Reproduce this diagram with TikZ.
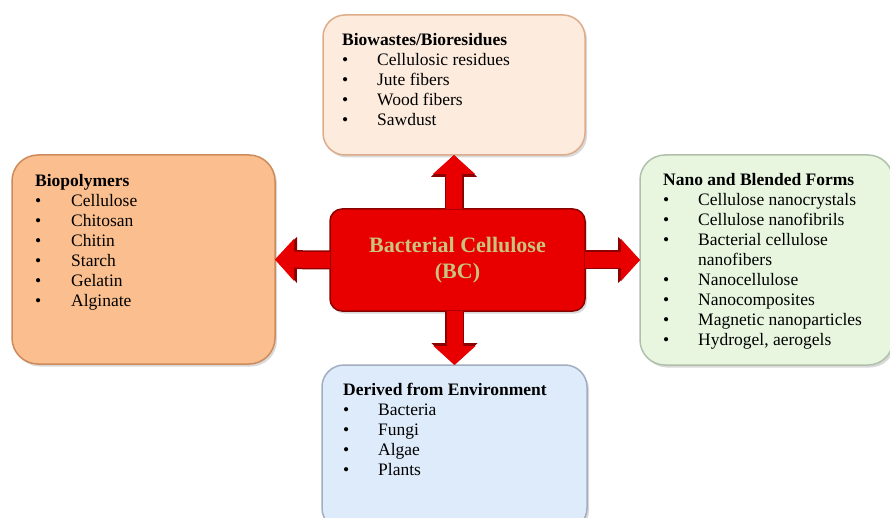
\documentclass[tikz,border=0pt]{standalone}
\usepackage{fontspec}
\setmainfont{Liberation Serif}
\usetikzlibrary{arrows.meta,shadows}

\definecolor{biofill}{RGB}{253,235,221}
\definecolor{bioline}{RGB}{222,172,138}
\definecolor{polyfill}{RGB}{251,191,143}
\definecolor{polyline}{RGB}{205,138,90}
\definecolor{nanofill}{RGB}{232,246,224}
\definecolor{nanoline}{RGB}{176,192,170}
\definecolor{envfill}{RGB}{222,235,250}
\definecolor{envline}{RGB}{162,174,192}
\definecolor{bcred}{RGB}{232,0,0}
\definecolor{bcdark}{RGB}{140,0,0}
\definecolor{bctext}{RGB}{200,196,128}

\begin{document}
\begin{tikzpicture}[
    x=1pt, y=-1pt,
    panel/.style={draw, line width=1.5pt, rounded corners=22pt, inner sep=0pt,
                  outer sep=0pt,
                  drop shadow={shadow xshift=2pt, shadow yshift=-2.5pt, opacity=0.3}},
    list/.style={anchor=north west, inner sep=0pt,
                 font=\fontsize{17.5}{20}\selectfont},
    core/.style={panel, rounded corners=12pt, fill=bcred, draw=bcdark,
                 text=bctext, align=center,
                 font=\fontsize{22}{26}\selectfont\bfseries},
    blockarrow/.style={preaction={draw=bcdark, line width=19pt,
                         -{Triangle[width=45pt,length=22pt]}},
                       draw=bcred, line width=16pt,
                       -{Triangle[width=41pt,length=19pt]}},
]
    \useasboundingbox (0,0) rectangle (890,518);
    \clip (0,0) rectangle (890,518);

    \node[panel, fill=biofill, draw=bioline, minimum width=262pt,
          minimum height=140pt] (bio) at (454,85) {};
    \node[panel, fill=polyfill, draw=polyline, minimum width=263pt,
          minimum height=209pt, rounded corners=26pt] (poly) at (143.5,259.5) {};
    \node[panel, fill=nanofill, draw=nanoline, minimum width=253pt,
          minimum height=210pt, rounded corners=25pt] (nano) at (766.5,260) {};
    \node[panel, fill=envfill, draw=envline, minimum width=265pt,
          minimum height=165pt] (env) at (454.5,447.5) {};
    \node[core, minimum width=255pt, minimum height=102pt] (bc) at (457.5,260)
        {Bacterial Cellulose\\(BC)};

    \node[list] (biolist) at ([shift={(19,16)}]bio.north west) {%
        \begin{tabular}[t]{@{}p{35pt}@{}l@{}}
        \multicolumn{2}{@{}l@{}}{\textbf{Biowastes/Bioresidues}}\\
        \textbullet & Cellulosic residues\\
        \textbullet & Jute fibers\\
        \textbullet & Wood fibers\\
        \textbullet & Sawdust
        \end{tabular}};
    \node[list] (polylist) at ([shift={(23,17)}]poly.north west) {%
        \begin{tabular}[t]{@{}p{36pt}@{}l@{}}
        \multicolumn{2}{@{}l@{}}{\textbf{Biopolymers}}\\
        \textbullet & Cellulose\\
        \textbullet & Chitosan\\
        \textbullet & Chitin\\
        \textbullet & Starch\\
        \textbullet & Gelatin\\
        \textbullet & Alginate
        \end{tabular}};
    \node[list] (nanolist) at ([shift={(23,16)}]nano.north west) {%
        \begin{tabular}[t]{@{}p{35pt}@{}l@{}}
        \multicolumn{2}{@{}l@{}}{\textbf{Nano and Blended Forms}}\\
        \textbullet & Cellulose nanocrystals\\
        \textbullet & Cellulose nanofibrils\\
        \textbullet & Bacterial cellulose\\
                    & nanofibers\\
        \textbullet & Nanocellulose\\
        \textbullet & Nanocomposites\\
        \textbullet & Magnetic nanoparticles\\
        \textbullet & Hydrogel, aerogels
        \end{tabular}};
    \node[list] (envlist) at ([shift={(21,16)}]env.north west) {%
        \begin{tabular}[t]{@{}p{35pt}@{}l@{}}
        \multicolumn{2}{@{}l@{}}{\textbf{Derived from Environment}}\\
        \textbullet & Bacteria\\
        \textbullet & Fungi\\
        \textbullet & Algae\\
        \textbullet & Plants
        \end{tabular}};

    \draw[blockarrow] (bio.south |- bc.north) -- (bio.south);
    \draw[blockarrow] (bc.west) -- (poly.east);
    \draw[blockarrow] (bc.east) -- (nano.west);
    \draw[blockarrow] (env.north |- bc.south) -- (env.north);
\end{tikzpicture}
\end{document}
